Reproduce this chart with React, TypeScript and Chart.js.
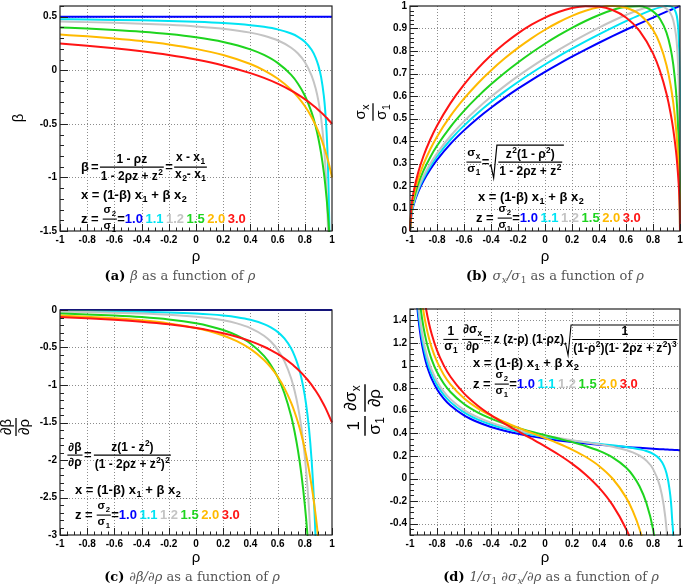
import React, { useEffect, useRef } from 'react';
import { Chart, registerables } from 'chart.js';

Chart.register(...registerables);

// ---------------- data ----------------
const zLabels = ['1.0', '1.1', '1.2', '1.5', '2.0', '3.0'];
const zColors = ['#0000ff', '#00e4f4', '#c4c4c4', '#1ed41e', '#ffba00', '#ff1414'];

const xTicks = [-1, -0.8, -0.6, -0.4, -0.2, 0, 0.2, 0.4, 0.6, 0.8, 1];
const xTickLabels = ['-1', '-0.8', '-0.6', '-0.4', '-0.2', '0', '0.2', '0.4', '0.6', '0.8', '1'];

const yTicksA = [-1.5, -1, -0.5, 0, 0.5];
const yLabelsA = ['-1.5', '-1', '-0.5', '0', '0.5'];
const yTicksB = [0, 0.1, 0.2, 0.3, 0.4, 0.5, 0.6, 0.7, 0.8, 0.9, 1];
const yLabelsB = ['0', '0.1', '0.2', '0.3', '0.4', '0.5', '0.6', '0.7', '0.8', '0.9', '1'];
const yTicksC = [-3, -2.5, -2, -1.5, -1, -0.5, 0];
const yLabelsC = ['-3', '-2.5', '-2', '-1.5', '-1', '-0.5', '0'];
const yTicksD = [-0.4, -0.2, 0, 0.2, 0.4, 0.6, 0.8, 1, 1.2, 1.4];
const yLabelsD = ['-0.4', '-0.2', '0', '0.2', '0.4', '0.6', '0.8', '1', '1.2', '1.4'];

// (a) beta vs rho
const rhoA = [-1, -0.8, -0.6, -0.4, -0.2, 0, 0.2, 0.4, 0.5, 0.6, 0.7, 0.75, 0.8, 0.85, 0.88, 0.9, 0.92, 0.94, 0.95, 0.96, 0.97, 0.98, 0.99, 1];
const betaZ10 = [0.5, 0.5, 0.5, 0.5, 0.5, 0.5, 0.5, 0.5, 0.5, 0.5, 0.5, 0.5, 0.5, 0.5, 0.5, 0.5, 0.5, 0.5, 0.5, 0.5, 0.5, 0.5, 0.5, 0.5];
const betaZ11 = [0.4762, 0.4736, 0.4703, 0.466, 0.4604, 0.4525, 0.4407, 0.4211, 0.4054, 0.382, 0.3433, 0.3125, 0.2667, 0.1912, 0.1168, 0.0435, -0.0645, -0.2394, -0.375, -0.5714, -0.8816, -1.4444, -2.7813, -10];
const betaZ12 = [0.4545, 0.4495, 0.4433, 0.4353, 0.4247, 0.4098, 0.3878, 0.3514, 0.3226, 0.28, 0.2105, 0.1563, 0.0769, -0.05, -0.1707, -0.2857, -0.4483, -0.6957, -0.875, -1.1176, -1.4643, -2.0, -2.9375, -5];
const betaZ15 = [0.4, 0.3894, 0.3762, 0.3596, 0.3377, 0.3077, 0.2642, 0.1951, 0.1429, 0.069, -0.0435, -0.125, -0.2353, -0.3929, -0.5246, -0.6364, -0.7755, -0.9535, -1.0625, -1.1892, -1.3382, -1.5161, -1.7321, -2];
const betaZ20 = [0.3333, 0.3171, 0.2973, 0.2727, 0.2414, 0.2, 0.1429, 0.0588, 0, -0.0769, -0.1818, -0.25, -0.3333, -0.4375, -0.5135, -0.5714, -0.6364, -0.7097, -0.75, -0.7931, -0.8393, -0.8889, -0.9423, -1];
const betaZ30 = [0.25, 0.2297, 0.2059, 0.1774, 0.1429, 0.1, 0.0455, -0.0263, -0.0714, -0.125, -0.1897, -0.2273, -0.2692, -0.3163, -0.3475, -0.3696, -0.3929, -0.4174, -0.4302, -0.4434, -0.4569, -0.4709, -0.4852, -0.5];

// (b) sigma_x / sigma_1 vs rho
const rhoB = [-1, -0.99, -0.97, -0.94, -0.9, -0.85, -0.8, -0.7, -0.6, -0.5, -0.4, -0.3, -0.2, -0.1, 0, 0.1, 0.2, 0.3, 0.4, 0.5, 0.6, 0.7, 0.8, 0.85, 0.9, 0.93, 0.95, 0.97, 0.98, 0.99, 0.995, 0.999, 1];
const sigmaZ10 = [0, 0.0707, 0.1225, 0.1732, 0.2236, 0.2739, 0.3162, 0.3873, 0.4472, 0.5, 0.5477, 0.5916, 0.6325, 0.6708, 0.7071, 0.7416, 0.7746, 0.8062, 0.8367, 0.866, 0.8944, 0.922, 0.9487, 0.9618, 0.9747, 0.9823, 0.9874, 0.9925, 0.995, 0.9975, 0.9987, 0.9997, 1];
const sigmaZ11 = [0, 0.0741, 0.1283, 0.1815, 0.2342, 0.2869, 0.3312, 0.4057, 0.4684, 0.5236, 0.5735, 0.6194, 0.6621, 0.7021, 0.7399, 0.7759, 0.8101, 0.8428, 0.8742, 0.9042, 0.9328, 0.9597, 0.9839, 0.9938, 0.9998, 0.9984, 0.9915, 0.97, 0.942, 0.8675, 0.7581, 0.4453, 0];
const sigmaZ12 = [0, 0.0771, 0.1336, 0.1889, 0.2439, 0.2987, 0.3448, 0.4222, 0.4874, 0.5447, 0.5965, 0.644, 0.6881, 0.7293, 0.7682, 0.805, 0.8398, 0.8728, 0.904, 0.9333, 0.96, 0.983, 0.9985, 0.9995, 0.9885, 0.9671, 0.9368, 0.8717, 0.805, 0.6691, 0.5256, 0.2606, 0];
const sigmaZ15 = [0, 0.0848, 0.1469, 0.2077, 0.2681, 0.3281, 0.3786, 0.4631, 0.534, 0.596, 0.6517, 0.7024, 0.749, 0.7921, 0.8321, 0.869, 0.9028, 0.9334, 0.9602, 0.982, 0.9965, 0.9989, 0.9762, 0.9444, 0.8816, 0.8129, 0.7406, 0.6254, 0.5361, 0.3999, 0.291, 0.1333, 0];
const sigmaZ20 = [0, 0.0943, 0.1632, 0.2305, 0.2973, 0.3635, 0.4191, 0.5114, 0.5882, 0.6547, 0.7135, 0.7662, 0.8137, 0.8564, 0.8944, 0.9278, 0.9562, 0.9787, 0.9941, 1.0, 0.9923, 0.963, 0.8944, 0.8329, 0.7368, 0.6498, 0.5701, 0.4594, 0.383, 0.2767, 0.1978, 0.0892, 0];
const sigmaZ30 = [0, 0.106, 0.1834, 0.2588, 0.3332, 0.4067, 0.4679, 0.5685, 0.6508, 0.7206, 0.7808, 0.8331, 0.8783, 0.9168, 0.9487, 0.9736, 0.9909, 0.9994, 0.9974, 0.982, 0.9487, 0.8896, 0.7894, 0.7139, 0.6097, 0.5245, 0.4517, 0.3567, 0.2941, 0.21, 0.1493, 0.067, 0];

// (c) d beta / d rho
const rhoC = [-1, -0.8, -0.6, -0.4, -0.2, 0, 0.1, 0.2, 0.3, 0.4, 0.5, 0.55, 0.6, 0.65, 0.7, 0.725, 0.75, 0.775, 0.8, 0.82, 0.84, 0.86, 0.88, 0.9, 0.92, 0.95, 1];
const dbetaZ10 = [0, 0, 0, 0, 0, 0, 0, 0, 0, 0, 0, 0, 0, 0, 0, 0, 0, 0, 0, 0, 0, 0, 0, 0, 0, 0, 0];
const dbetaZ11 = [-0.0119, -0.0147, -0.0185, -0.0242, -0.0329, -0.0473, -0.0583, -0.0737, -0.0962, -0.1306, -0.1875, -0.231, -0.2916, -0.3797, -0.5146, -0.6108, -0.7366, -0.9058, -1.1407, -1.4014, -1.7628, -2.2843, -3.0769, -4.3667, -6.6771, -16.04, -2310];
const dbetaZ12 = [-0.0225, -0.0278, -0.0351, -0.0457, -0.0619, -0.0887, -0.1091, -0.1374, -0.1785, -0.2411, -0.3434, -0.4209, -0.528, -0.6818, -0.9141, -1.0776, -1.2891, -1.5696, -1.9527, -2.37, -2.937, -3.7347, -4.9078, -6.7347, -9.8098, -20.625, -330];
const dbetaZ15 = [-0.048, -0.0587, -0.0735, -0.0947, -0.1265, -0.1775, -0.2155, -0.267, -0.3395, -0.4462, -0.6122, -0.7324, -0.8918, -1.1095, -1.4178, -1.6225, -1.875, -2.1914, -2.5952, -3.0043, -3.5185, -4.1769, -5.039, -6.1983, -7.8093, -11.7188, -30];
const dbetaZ20 = [-0.0741, -0.0892, -0.1096, -0.1377, -0.1784, -0.24, -0.2836, -0.3401, -0.4155, -0.519, -0.6667, -0.7653, -0.8876, -1.0417, -1.2397, -1.3605, -1.5, -1.6621, -1.8519, -2.0281, -2.2308, -2.4655, -2.7392, -3.0612, -3.4435, -4.1667, -6];
const dbetaZ30 = [-0.0938, -0.1096, -0.1298, -0.1561, -0.1913, -0.24, -0.2716, -0.3099, -0.3569, -0.4155, -0.4898, -0.5346, -0.5859, -0.645, -0.7134, -0.7518, -0.7934, -0.8385, -0.8876, -0.93, -0.9755, -1.0245, -1.0773, -1.1342, -1.1958, -1.298, -1.5];

// (d) (1/sigma_1) d sigma_x / d rho
const rhoD = [-0.98, -0.96, -0.94, -0.92, -0.9, -0.88, -0.86, -0.84, -0.8, -0.75, -0.7, -0.6, -0.5, -0.4, -0.3, -0.2, -0.1, 0, 0.1, 0.2, 0.3, 0.4, 0.5, 0.6, 0.65, 0.7, 0.75, 0.8, 0.85, 0.88, 0.9, 0.92, 0.94, 0.96, 0.98, 1];
const dsigZ10 = [2.5, 1.7678, 1.4434, 1.25, 1.118, 1.0206, 0.9449, 0.8839, 0.7906, 0.7071, 0.6455, 0.559, 0.5, 0.4564, 0.4226, 0.3953, 0.3727, 0.3536, 0.3371, 0.3227, 0.3101, 0.2988, 0.2887, 0.2795, 0.2752, 0.2712, 0.2673, 0.2635, 0.2599, 0.2579, 0.2565, 0.2552, 0.2538, 0.2525, 0.2513, 0.25];
const dsigZ11 = [2.619, 1.8518, 1.512, 1.3093, 1.1711, 1.069, 0.9896, 0.9257, 0.8279, 0.7404, 0.6758, 0.5851, 0.5231, 0.4773, 0.4416, 0.4128, 0.3888, 0.3683, 0.3505, 0.3347, 0.3203, 0.3067, 0.2933, 0.2784, 0.2695, 0.2584, 0.2431, 0.2186, 0.1712, 0.1137, 0.0458, -0.0756, -0.3278, -1.004, -4.1234, null];
const dsigZ12 = [2.7249, 1.928, 1.574, 1.3629, 1.2189, 1.1125, 1.0298, 0.9631, 0.8612, 0.7699, 0.7025, 0.6076, 0.5427, 0.4945, 0.4568, 0.4261, 0.4003, 0.3778, 0.3578, 0.3392, 0.3212, 0.3025, 0.281, 0.252, 0.2315, 0.2029, 0.1595, 0.0853, -0.063, -0.241, -0.4459, -0.7979, -1.4831, -3.1173, -8.944, null];
const dsigZ15 = [2.9982, 2.1187, 1.7288, 1.4962, 1.3373, 1.2199, 1.1285, 1.0548, 0.9419, 0.8406, 0.7655, 0.6592, 0.5856, 0.53, 0.4854, 0.4479, 0.4147, 0.384, 0.3541, 0.323, 0.2881, 0.2453, 0.187, 0.0967, 0.0283, -0.0681, -0.2126, -0.4466, -0.8691, -1.3151, -1.7717, -2.4593, -3.58, -5.6556, -10.673, null];
const dsigZ20 = [3.3277, 2.349, 1.9144, 1.6548, 1.4779, 1.3459, 1.2435, 1.1607, 1.0335, 0.9187, 0.8331, 0.7104, 0.6235, 0.556, 0.4998, 0.4501, 0.4037, 0.3578, 0.3097, 0.2561, 0.1925, 0.1114, 0, -0.167, -0.2867, -0.4463, -0.6682, -0.9938, -1.5101, -1.9907, -2.4375, -3.0526, -3.9601, -5.4702, -8.7685, null];
const dsigZ30 = [3.7357, 2.6312, 2.1397, 1.8453, 1.6433, 1.4935, 1.3763, 1.2813, 1.1346, 1.0011, 0.9005, 0.7537, 0.6467, 0.5607, 0.4865, 0.4182, 0.3521, 0.2846, 0.2124, 0.1314, 0.0362, -0.0812, -0.2338, -0.4447, -0.585, -0.7609, -0.989, -1.2987, -1.7497, -2.1415, -2.4904, -2.9552, -3.6212, -4.7066, -7.0645, null];

// ---------------- tiny math-text engine ----------------
type MN =
  | { k: 't'; s: string; c?: string; st?: string }
  | { k: 'sub'; s: string; c?: string; st?: string }
  | { k: 'sup'; s: string; c?: string; st?: string }
  | { k: 'g'; w: number }
  | { k: 'row'; c: MN[] }
  | { k: 'frac'; n: MN; d: MN; sc?: number }
  | { k: 'sqrt'; b: MN };

interface Env { fam: string; st: string; c: string }

const T = (s: string, c?: string, st?: string): MN => ({ k: 't', s, c, st });
const Sb = (s: string, c?: string, st?: string): MN => ({ k: 'sub', s, c, st });
const Su = (s: string, c?: string, st?: string): MN => ({ k: 'sup', s, c, st });
const G = (w: number): MN => ({ k: 'g', w });
const R = (...c: MN[]): MN => ({ k: 'row', c });
const Fr = (n: MN, d: MN, sc?: number): MN => ({ k: 'frac', n, d, sc });
const Sq = (b: MN): MN => ({ k: 'sqrt', b });

const fontOf = (st: string | undefined, size: number, env: Env) => `${st ?? env.st} ${size.toFixed(2)}px ${env.fam}`;

interface Box { w: number; a: number; d: number }

function meas(ctx: CanvasRenderingContext2D, n: MN, size: number, env: Env): Box {
  switch (n.k) {
    case 't':
      ctx.font = fontOf(n.st, size, env);
      return { w: ctx.measureText(n.s).width, a: 0.74 * size, d: 0.22 * size };
    case 'sub': {
      const s = size * 0.7;
      ctx.font = fontOf(n.st, s, env);
      return { w: ctx.measureText(n.s).width + 0.5, a: 0.4 * size, d: 0.22 * s + 0.26 * size };
    }
    case 'sup': {
      const s = size * 0.7;
      ctx.font = fontOf(n.st, s, env);
      return { w: ctx.measureText(n.s).width + 0.5, a: 0.74 * s + 0.42 * size, d: 0 };
    }
    case 'g':
      return { w: n.w, a: 0, d: 0 };
    case 'row': {
      let w = 0, a = 0, d = 0;
      for (const c of n.c) { const m = meas(ctx, c, size, env); w += m.w; a = Math.max(a, m.a); d = Math.max(d, m.d); }
      return { w, a, d };
    }
    case 'frac': {
      const s = size * (n.sc ?? 1);
      const nm = meas(ctx, n.n, s, env), dm = meas(ctx, n.d, s, env);
      const pad = 0.1 * size, gap = 0.12 * size, ax = 0.3 * size;
      return { w: Math.max(nm.w, dm.w) + 2 * pad, a: ax + gap + nm.d + nm.a, d: gap + dm.a + dm.d - ax };
    }
    case 'sqrt': {
      const bm = meas(ctx, n.b, size, env);
      const r = 0.62 * size;
      return { w: r + bm.w + 0.15 * size, a: bm.a + 0.2 * size, d: bm.d + 0.06 * size };
    }
  }
  return { w: 0, a: 0, d: 0 };
}

function drawM(ctx: CanvasRenderingContext2D, n: MN, x: number, y: number, size: number, env: Env) {
  ctx.textAlign = 'left';
  ctx.textBaseline = 'alphabetic';
  switch (n.k) {
    case 't':
      ctx.font = fontOf(n.st, size, env);
      ctx.fillStyle = n.c ?? env.c;
      ctx.fillText(n.s, x, y);
      return;
    case 'sub':
      ctx.font = fontOf(n.st, size * 0.7, env);
      ctx.fillStyle = n.c ?? env.c;
      ctx.fillText(n.s, x + 0.5, y + 0.26 * size);
      return;
    case 'sup':
      ctx.font = fontOf(n.st, size * 0.7, env);
      ctx.fillStyle = n.c ?? env.c;
      ctx.fillText(n.s, x + 0.5, y - 0.42 * size);
      return;
    case 'g':
      return;
    case 'row': {
      let cx = x;
      for (const c of n.c) { drawM(ctx, c, cx, y, size, env); cx += meas(ctx, c, size, env).w; }
      return;
    }
    case 'frac': {
      const s = size * (n.sc ?? 1);
      const nm = meas(ctx, n.n, s, env), dm = meas(ctx, n.d, s, env);
      const pad = 0.1 * size, gap = 0.12 * size, ax = 0.3 * size;
      const w = Math.max(nm.w, dm.w) + 2 * pad;
      const by = y - ax;
      ctx.save();
      ctx.strokeStyle = env.c;
      ctx.lineWidth = Math.max(1, size * 0.085);
      ctx.beginPath();
      ctx.moveTo(x + 0.03 * size, by);
      ctx.lineTo(x + w - 0.03 * size, by);
      ctx.stroke();
      ctx.restore();
      drawM(ctx, n.n, x + (w - nm.w) / 2, by - gap - nm.d, s, env);
      drawM(ctx, n.d, x + (w - dm.w) / 2, by + gap + dm.a, s, env);
      return;
    }
    case 'sqrt': {
      const bm = meas(ctx, n.b, size, env);
      const r = 0.62 * size;
      const top = y - bm.a - 0.12 * size;
      const bot = y + bm.d + 0.04 * size;
      const mid = top + (bot - top) * 0.62;
      const w = r + bm.w + 0.15 * size;
      ctx.save();
      ctx.strokeStyle = env.c;
      ctx.lineWidth = Math.max(1, size * 0.09);
      ctx.lineJoin = 'miter';
      ctx.beginPath();
      ctx.moveTo(x + 0.02 * size, mid + 0.06 * size);
      ctx.lineTo(x + 0.2 * r, mid - 0.04 * size);
      ctx.lineTo(x + 0.55 * r, bot);
      ctx.lineTo(x + 0.95 * r, top);
      ctx.lineTo(x + w, top);
      ctx.stroke();
      ctx.restore();
      drawM(ctx, n.b, x + r + 0.05 * size, y, size, env);
      return;
    }
  }
}

// ---------------- panel setup ----------------
const SANS = '"Liberation Sans", Arial, Helvetica, sans-serif';
const SERIF = '"DejaVu Serif", "Liberation Serif", serif';
const formulaEnv: Env = { fam: SANS, st: 'bold', c: '#000' };
const titleEnv: Env = { fam: SANS, st: 'normal', c: '#000' };
const capEnv: Env = { fam: SERIF, st: 'normal', c: '#555' };

const FS = 13; // main formula text size
const FSC = 0.92; // fraction content scale

const xLine = R(T('x = (1-β) x'), Sb('1'), T(' + β x'), Sb('2'));
const zLine = R(
  T('z = '),
  Fr(R(T('σ'), Sb('2')), R(T('σ'), Sb('1')), 0.85),
  T('='),
  ...zLabels.flatMap((l, i) => [T(l, zColors[i]), G(2.5)])
);

interface Formula { node: MN; x: number; y: number; size: number }
interface PanelCfg {
  left: number; top: number; width: number; height: number;
  pad: { left: number; top: number; right: number; bottom: number };
  rho: number[]; series: (number | null)[][];
  yMin: number; yMax: number; yTicks: number[]; yLabels: string[]; yMinor: number; xMinor: number;
  yTitle: MN; yTitleSize: number; yTitleX: number; yTitleY: number;
  xTitleX: number; xTitleY: number;
  formulas: Formula[];
  caption: MN; capX: number; capY: number;
}

const capTail = (label: string, math: MN[]): MN =>
  R(T(label, '#000', 'bold'), G(5), ...math, T(' as a function of '), T('ρ', undefined, 'italic'));

const panels: PanelCfg[] = [
  {
    left: 0, top: 0, width: 342, height: 294,
    pad: { left: 60, top: 6, right: 10, bottom: 63 },
    rho: rhoA, series: [betaZ10, betaZ11, betaZ12, betaZ15, betaZ20, betaZ30],
    yMin: -1.5, yMax: 0.6, yTicks: yTicksA, yLabels: yLabelsA, yMinor: 0.1, xMinor: 0.05,
    yTitle: T('β'), yTitleSize: 15, yTitleX: 19, yTitleY: 118,
    xTitleX: 196, xTitleY: 257,
    formulas: [
      {
        node: R(
          T('β'), G(2), T('='), G(1),
          Fr(T('1 - ρz'), R(T('1 - 2ρz + z'), Su('2')), FSC),
          G(1), T('='), G(1),
          Fr(R(T('x - x'), Sb('1')), R(T('x'), Sb('2'), T('- x'), Sb('1')), FSC)
        ),
        x: 81, y: 171, size: FS,
      },
      { node: xLine, x: 81, y: 199, size: FS },
      { node: zLine, x: 81, y: 223, size: FS },
    ],
    caption: capTail('(a)', [T('β', undefined, 'italic')]), capX: 180, capY: 280,
  },
  {
    left: 342, top: 0, width: 343, height: 294,
    pad: { left: 68, top: 6, right: 5, bottom: 63 },
    rho: rhoB, series: [sigmaZ10, sigmaZ11, sigmaZ12, sigmaZ15, sigmaZ20, sigmaZ30],
    yMin: 0, yMax: 1, yTicks: yTicksB, yLabels: yLabelsB, yMinor: 0.02, xMinor: 0.05,
    yTitle: Fr(R(T('σ'), Sb('x')), R(T('σ'), Sb('1'))), yTitleSize: 15, yTitleX: 31, yTitleY: 112,
    xTitleX: 203, xTitleY: 257,
    formulas: [
      {
        node: R(
          Fr(R(T('σ'), Sb('x')), R(T('σ'), Sb('1')), 0.9),
          T('='),
          Sq(Fr(R(T('z'), Su('2'), T('(1 - ρ'), Su('2'), T(')')), R(T('1 - 2ρz + z'), Su('2')), FSC))
        ),
        x: 124, y: 166, size: FS,
      },
      { node: xLine, x: 136, y: 201, size: FS },
      { node: zLine, x: 134, y: 222, size: FS },
    ],
    caption: capTail('(b)', [T('σ', undefined, 'italic'), Sb('x', undefined, 'italic'), T('/σ', undefined, 'italic'), Sb('1')]),
    capX: 213, capY: 280,
  },
  {
    left: 0, top: 294, width: 342, height: 294,
    pad: { left: 60, top: 16, right: 10, bottom: 53 },
    rho: rhoC, series: [dbetaZ10, dbetaZ11, dbetaZ12, dbetaZ15, dbetaZ20, dbetaZ30],
    yMin: -3, yMax: 0, yTicks: yTicksC, yLabels: yLabelsC, yMinor: 0.1, xMinor: 0.05,
    yTitle: Fr(T('∂β'), T('∂ρ')), yTitleSize: 15, yTitleX: 16, yTitleY: 133,
    xTitleX: 196, xTitleY: 264,
    formulas: [
      {
        node: R(
          Fr(T('∂β'), T('∂ρ'), FSC),
          G(1), T('='), G(2),
          Fr(R(T('z(1 - z'), Su('2'), T(')')), R(T('(1 - 2ρz + z'), Su('2'), T(')'), Su('2')), FSC)
        ),
        x: 67, y: 165, size: FS,
      },
      { node: xLine, x: 75, y: 200, size: FS },
      { node: zLine, x: 75, y: 225, size: FS },
    ],
    caption: capTail('(c)', [T('∂β/∂ρ', undefined, 'italic')]), capX: 192, capY: 287,
  },
  {
    left: 342, top: 294, width: 343, height: 294,
    pad: { left: 68, top: 15, right: 5, bottom: 53 },
    rho: rhoD, series: [dsigZ10, dsigZ11, dsigZ12, dsigZ15, dsigZ20, dsigZ30],
    yMin: -0.5, yMax: 1.5, yTicks: yTicksD, yLabels: yLabelsD, yMinor: 0.05, xMinor: 0.05,
    yTitle: R(Fr(T('1'), R(T('σ'), Sb('1'))), G(3), Fr(R(T('∂σ'), Sb('x')), T('∂ρ'))),
    yTitleSize: 17, yTitleX: 23, yTitleY: 116,
    xTitleX: 203, xTitleY: 264,
    formulas: [
      {
        node: R(
          Fr(T('1'), R(T('σ'), Sb('1'))),
          G(3),
          Fr(R(T('∂σ'), Sb('x')), T('∂ρ')),
          T('= z (z-ρ) (1-ρz)'),
          Sq(Fr(T('1'), R(T('(1-ρ'), Su('2'), T(')(1- 2ρz + z'), Su('2'), T(')'), Su('3'))))
        ),
        x: 101, y: 49, size: 12,
      },
      { node: xLine, x: 131, y: 73, size: FS },
      { node: zLine, x: 131, y: 94, size: FS },
    ],
    caption: capTail('(d)', [
      T('1/σ', undefined, 'italic'), Sb('1'), G(4), T('∂σ', undefined, 'italic'), Sb('x', undefined, 'italic'), T('/∂ρ', undefined, 'italic'),
    ]),
    capX: 209, capY: 287,
  },
];

function tickValues(major: number[], step: number, min: number, max: number): number[] {
  const base = major[0];
  const out: number[] = [];
  const k0 = Math.ceil((min - base) / step - 1e-6);
  const k1 = Math.floor((max - base) / step + 1e-6);
  for (let k = k0; k <= k1; k++) out.push(+(base + k * step).toFixed(6));
  return out;
}

function rootPlugin(cfg: PanelCfg) {
  return {
    id: 'rootStyle',
    beforeDraw(chart: any) {
      const c = chart.ctx;
      c.save();
      c.fillStyle = '#fff';
      c.fillRect(0, 0, chart.width, chart.height);
      c.restore();
    },
    beforeDatasetsDraw(chart: any) {
      const { ctx, chartArea: a } = chart;
      const xs = chart.scales.x, ys = chart.scales.y;
      ctx.save();
      ctx.strokeStyle = '#8c8c8c';
      ctx.lineWidth = 1;
      ctx.setLineDash([1, 2]);
      ctx.beginPath();
      for (const v of xTicks) {
        const p = Math.round(xs.getPixelForValue(v)) + 0.5;
        if (p < a.left + 2 || p > a.right - 2) continue;
        ctx.moveTo(p, a.top); ctx.lineTo(p, a.bottom);
      }
      for (const v of cfg.yTicks) {
        const p = Math.round(ys.getPixelForValue(v)) + 0.5;
        if (p < a.top + 2 || p > a.bottom - 2) continue;
        ctx.moveTo(a.left, p); ctx.lineTo(a.right, p);
      }
      ctx.stroke();
      ctx.restore();
    },
    afterDraw(chart: any) {
      const { ctx, chartArea: a } = chart;
      const xs = chart.scales.x, ys = chart.scales.y;
      ctx.save();
      // frame
      ctx.strokeStyle = '#222';
      ctx.lineWidth = 1.2;
      ctx.strokeRect(a.left, a.top, a.right - a.left, a.bottom - a.top);
      // ticks
      ctx.lineWidth = 1;
      ctx.beginPath();
      const isMajor = (v: number, arr: number[]) => arr.some((m) => Math.abs(m - v) < 1e-6);
      for (const v of tickValues(xTicks, cfg.xMinor, -1, 1)) {
        const p = Math.round(xs.getPixelForValue(v)) + 0.5;
        const len = isMajor(v, xTicks) ? 7 : 3.5;
        ctx.moveTo(p, a.bottom); ctx.lineTo(p, a.bottom - len);
      }
      for (const v of tickValues(cfg.yTicks, cfg.yMinor, cfg.yMin, cfg.yMax)) {
        const p = Math.round(ys.getPixelForValue(v)) + 0.5;
        const len = isMajor(v, cfg.yTicks) ? 8 : 4;
        ctx.moveTo(a.left, p); ctx.lineTo(a.left + len, p);
      }
      ctx.stroke();
      // tick labels
      ctx.fillStyle = '#000';
      ctx.font = `bold 10px ${SANS}`;
      ctx.textAlign = 'center';
      ctx.textBaseline = 'middle';
      xTicks.forEach((v, i) => ctx.fillText(xTickLabels[i], xs.getPixelForValue(v), a.bottom + 9));
      ctx.textAlign = 'right';
      cfg.yTicks.forEach((v, i) => ctx.fillText(cfg.yLabels[i], a.left - 3, ys.getPixelForValue(v)));
      // x title
      ctx.font = `normal 15px ${SANS}`;
      ctx.textAlign = 'center';
      ctx.fillText('ρ', cfg.xTitleX, cfg.xTitleY);
      // y title (rotated)
      {
        const m = meas(ctx, cfg.yTitle, cfg.yTitleSize, titleEnv);
        ctx.save();
        ctx.translate(cfg.yTitleX, cfg.yTitleY);
        ctx.rotate(-Math.PI / 2);
        drawM(ctx, cfg.yTitle, -m.w / 2, (m.a - m.d) / 2, cfg.yTitleSize, titleEnv);
        ctx.restore();
      }
      // formulas
      for (const f of cfg.formulas) drawM(ctx, f.node, f.x, f.y, f.size, formulaEnv);
      // caption
      {
        const m = meas(ctx, cfg.caption, 13, capEnv);
        drawM(ctx, cfg.caption, cfg.capX - m.w / 2, cfg.capY, 13, capEnv);
      }
      ctx.restore();
    },
  };
}

function Panel({ cfg }: { cfg: PanelCfg }) {
  const ref = useRef<HTMLCanvasElement | null>(null);
  useEffect(() => {
    if (!ref.current) return;
    const chart = new Chart(ref.current, {
      type: 'line',
      data: {
        datasets: cfg.series.map((vals, i) => ({
          label: 'z = ' + zLabels[i],
          data: cfg.rho.map((x, j) => ({ x, y: vals[j] })),
          borderColor: zColors[i],
          backgroundColor: zColors[i],
          borderWidth: 2,
          pointRadius: 0,
          fill: false,
          cubicInterpolationMode: 'monotone',
          clip: 1,
          order: cfg.series.length - i,
        })),
      },
      options: {
        animation: false,
        responsive: false,
        maintainAspectRatio: false,
        devicePixelRatio: 1,
        events: [],
        layout: { padding: cfg.pad },
        plugins: { legend: { display: false }, tooltip: { enabled: false }, title: { display: false } },
        scales: {
          x: { type: 'linear', min: -1, max: 1, display: false },
          y: { type: 'linear', min: cfg.yMin, max: cfg.yMax, display: false },
        },
      } as any,
      plugins: [rootPlugin(cfg)],
    } as any);
    return () => chart.destroy();
  }, [cfg]);
  return (
    <canvas
      ref={ref}
      width={cfg.width}
      height={cfg.height}
      style={{ position: 'absolute', left: cfg.left, top: cfg.top, width: cfg.width, height: cfg.height }}
    />
  );
}

export default function App() {
  return (
    <div style={{ position: 'absolute', left: 0, top: 0, width: 685, height: 588, background: '#fff', overflow: 'hidden' }}>
      {panels.map((p, i) => (
        <Panel key={i} cfg={p} />
      ))}
    </div>
  );
}
